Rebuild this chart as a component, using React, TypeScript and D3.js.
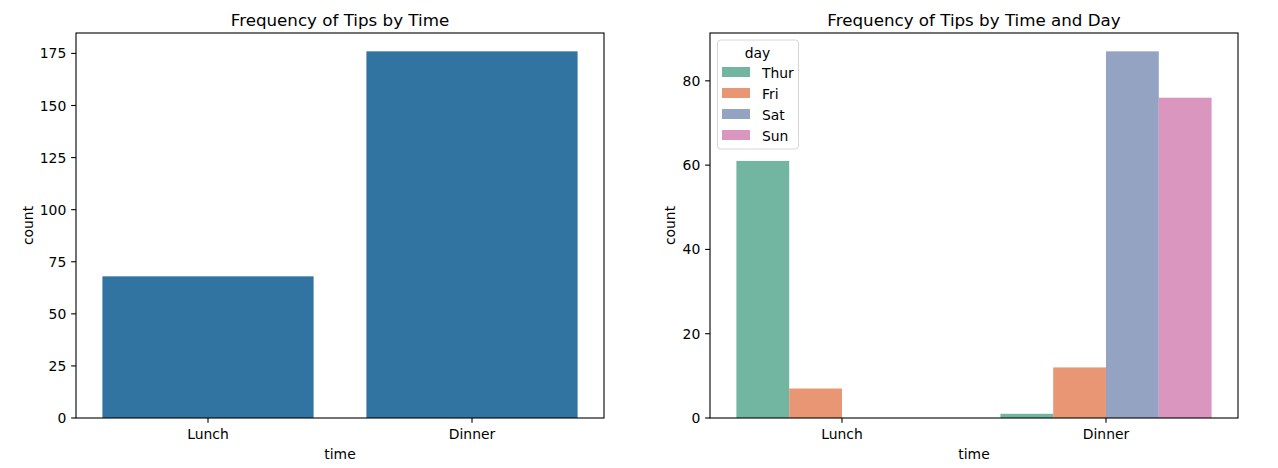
import React from "react";
import * as d3 from "d3";

const times = ["Lunch", "Dinner"];
const timeCounts = [68, 176];
const days = ["Thur", "Fri", "Sat", "Sun"];
const dayColors = ["#72b6a1", "#e99675", "#95a3c3", "#db96c0"];
const lunchByDay = [61, 7, 0, 0];
const dinnerByDay = [1, 12, 87, 76];
const leftTicks = [0, 25, 50, 75, 100, 125, 150, 175];
const rightTicks = [0, 20, 40, 60, 80];

const FONT = "DejaVu Sans, sans-serif";
const TOP = 33;
const BOTTOM = 418;
const TL = 4.86;

function Axes({ x0, x1, ymax, ticks, title, children, yLabelX }: any) {
  const y = d3.scaleLinear().domain([0, ymax]).range([BOTTOM, TOP]);
  const x = d3.scaleLinear().domain([-0.5, 1.5]).range([x0, x1]);
  return (
    <g>
      {children(x, y)}
      <rect x={x0} y={TOP} width={x1 - x0} height={BOTTOM - TOP} fill="none" stroke="#000" strokeWidth={1.1} />
      {ticks.map((t: number) => (
        <g key={t}>
          <line x1={x0 - TL} x2={x0} y1={y(t)} y2={y(t)} stroke="#000" strokeWidth={1.1} />
          <text x={x0 - 2 * TL} y={y(t) + 5} textAnchor="end" fontSize={13.9} fontFamily={FONT} fill="#000">{t}</text>
        </g>
      ))}
      {times.map((c, i) => (
        <g key={c}>
          <line x1={x(i)} x2={x(i)} y1={BOTTOM} y2={BOTTOM + TL} stroke="#000" strokeWidth={1.1} />
          <text x={x(i)} y={439} textAnchor="middle" fontSize={13.9} fontFamily={FONT} fill="#000">{c}</text>
        </g>
      ))}
      <text x={(x0 + x1) / 2} y={459} textAnchor="middle" fontSize={13.9} fontFamily={FONT} fill="#000">time</text>
      <text transform={`translate(${yLabelX},${(TOP + BOTTOM) / 2}) rotate(-90)`} textAnchor="middle" fontSize={13.9} fontFamily={FONT} fill="#000">count</text>
      <text x={(x0 + x1) / 2} y={26} textAnchor="middle" fontSize={16.7} fontFamily={FONT} fill="#000">{title}</text>
    </g>
  );
}

export default function App() {
  const byDay = [lunchByDay, dinnerByDay];
  return (
    <svg width={1278} height={468} style={{ position: "absolute", left: 0, top: 0, background: "#fff" }}>
      <rect width={1278} height={468} fill="#fff" />
      <Axes x0={76} x1={604} ymax={176 * 1.05} ticks={leftTicks} title="Frequency of Tips by Time" yLabelX={32.5}>
        {(x: any, y: any) =>
          timeCounts.map((v, i) => (
            <rect key={i} x={x(i - 0.4)} width={x(i + 0.4) - x(i - 0.4)} y={y(v)} height={y(0) - y(v)} fill="#3274a1" />
          ))
        }
      </Axes>
      <Axes x0={710} x1={1238} ymax={87 * 1.05} ticks={rightTicks} title="Frequency of Tips by Time and Day" yLabelX={674.5}>
        {(x: any, y: any) =>
          byDay.map((vals, i) =>
            vals.map((v, j) => {
              const a = i - 0.4 + j * 0.2;
              return (
                <rect key={`${i}-${j}`} x={x(a)} width={x(a + 0.2) - x(a)} y={y(v)} height={y(0) - y(v)} fill={dayColors[j]} />
              );
            })
          )
        }
      </Axes>
      <g>
        <rect x={717.5} y={40} width={81} height={109} rx={3} fill="#fff" fillOpacity={0.8} stroke="#d6d6d6" strokeWidth={1} />
        <text x={757.5} y={57.5} textAnchor="middle" fontSize={13.9} fontFamily={FONT} fill="#000">day</text>
        {days.map((d, j) => (
          <g key={d}>
            <rect x={722} y={67 + j * 21} width={28} height={10} fill={dayColors[j]} />
            <text x={762} y={77.5 + j * 21} fontSize={13.9} fontFamily={FONT} fill="#000">{d}</text>
          </g>
        ))}
      </g>
    </svg>
  );
}
